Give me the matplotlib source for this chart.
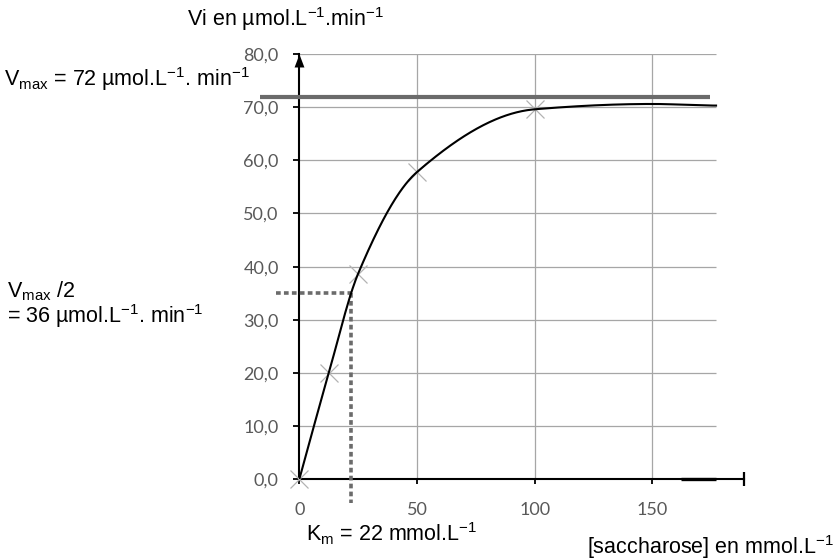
import numpy as np
import matplotlib
matplotlib.use("Agg")
import matplotlib.pyplot as plt
from matplotlib.path import Path

plt.rcParams["font.family"] = ["Liberation Sans", "DejaVu Sans"]
plt.rcParams["mathtext.fontset"] = "custom"
plt.rcParams["mathtext.rm"] = "Liberation Sans"
plt.rcParams["mathtext.it"] = "Liberation Sans:italic"
plt.rcParams["mathtext.bf"] = "Liberation Sans:bold"

# measured initial rates
substrate = [0, 12.5, 25, 50, 100]          # [saccharose] mmol/L
rate = [0, 20.0, 38.7, 57.8, 69.6]          # Vi µmol/L/min

# knots of the smoothed trend curve (plateau included)
curve_x = [0, 12.5, 25, 50, 100, 150, 177]
curve_y = [0, 20.0, 38.7, 57.8, 69.6, 70.6, 70.3]

vmax = 72
km = 22
half_vmax = 35

y_ticks = [0, 10, 20, 30, 40, 50, 60, 70, 80]
y_labels = ["0,0", "10,0", "20,0", "30,0", "40,0", "50,0", "60,0", "70,0", "80,0"]
x_ticks = [0, 50, 100, 150]
x_labels = ["0", "50", "100", "150"]


def pchip(xs, ys, n=400):
    """Shape-preserving piecewise cubic Hermite curve through the knots."""
    x = np.asarray(xs, float)
    y = np.asarray(ys, float)
    h = np.diff(x)
    d = np.diff(y) / h
    m = np.zeros_like(y)
    for k in range(1, len(x) - 1):
        if d[k - 1] * d[k] > 0:
            w1 = 2 * h[k] + h[k - 1]
            w2 = h[k] + 2 * h[k - 1]
            m[k] = (w1 + w2) / (w1 / d[k - 1] + w2 / d[k])
    m[0] = d[0]
    m[-1] = d[-1] if d[-1] * d[-2] > 0 else 0.0
    xx = np.linspace(x[0], x[-1], n)
    idx = np.clip(np.searchsorted(x, xx) - 1, 0, len(h) - 1)
    t = (xx - x[idx]) / h[idx]
    h00 = 2 * t ** 3 - 3 * t ** 2 + 1
    h10 = t ** 3 - 2 * t ** 2 + t
    h01 = -2 * t ** 3 + 3 * t ** 2
    h11 = t ** 3 - t ** 2
    yy = h00 * y[idx] + h10 * h[idx] * m[idx] + h01 * y[idx + 1] + h11 * h[idx] * m[idx + 1]
    return xx, yy


W, H = 840, 560
fig = plt.figure(figsize=(W / 100, H / 100), dpi=100)
left, right, bottom, top = 299.3, 744.3, 479.3, 54.0
ax = fig.add_axes([left / W, 1 - bottom / H, (right - left) / W, (bottom - top) / H])
ax.set_xlim(0, 189)
ax.set_ylim(0, 80)

grid_c = "#a6a6a6"
ax.hlines(y_ticks[1:], 0, 177, colors=grid_c, lw=0.9, zorder=1)
ax.vlines(x_ticks[1:], 0, 80, colors=grid_c, lw=0.9, zorder=1)

for s in ["top", "right"]:
    ax.spines[s].set_visible(False)
ax.spines["left"].set_linewidth(1.5)
ax.spines["bottom"].set_linewidth(1.5)

tick_font = dict(family=["Lato", "DejaVu Sans"], size=13, color="#595959")
ax.set_yticks(y_ticks)
ax.set_yticklabels(y_labels, **tick_font)
ax.set_xticks(x_ticks)
ax.set_xticklabels(x_labels, **tick_font)
ax.tick_params(axis="y", direction="out", length=4.3, width=1.3, pad=10.5)
ax.tick_params(axis="x", direction="out", length=3.6, width=1.3, pad=13)

# arrow head on the vertical axis
head = Path([(0, 0), (-0.38, -1), (0.38, -1), (0, 0)],
            [Path.MOVETO, Path.LINETO, Path.LINETO, Path.CLOSEPOLY])
ax.plot([0], [80], marker=head, markersize=18.7, color="black",
        markeredgewidth=0, clip_on=False, zorder=6)

# extended horizontal axis with end bar
ax.plot([189], [0], marker="|", markersize=10, markeredgewidth=1.6,
        color="black", clip_on=False, zorder=6)
ax.plot([162, 177], [0, 0], color="black", lw=2.4, solid_capstyle="butt",
        clip_on=False, zorder=5)

# Vmax level
ax.plot([-16.7, 174.6], [vmax, vmax], color="#6b6b6b", lw=3.0,
        solid_capstyle="butt", clip_on=False, zorder=3)

# Km construction
dash = (0, (1.3, 0.9))
ax.plot([-9.9, km], [half_vmax, half_vmax], color="#6b6b6b", lw=2.6,
        linestyle=dash, clip_on=False, zorder=3)
ax.plot([km, km], [half_vmax, -4.4], color="#6b6b6b", lw=2.6,
        linestyle=dash, clip_on=False, zorder=3)

cx, cy = pchip(curve_x, curve_y)
ax.plot(cx, cy, color="black", lw=1.5, zorder=4)
ax.plot(substrate, rate, linestyle="none", marker="x", markersize=13,
        markeredgewidth=0.9, color="#b3b3b3", clip_on=False, zorder=3)


def ftext(x, y, s, **kw):
    fig.text(x / W, 1 - y / H, s, ha="left", va="baseline",
             fontsize=15.5, color="black", **kw)


ftext(187, 26, r"Vi en µmol.L$^{-1}$.min$^{-1}$")
ftext(4, 86, r"V$_{\mathrm{max}}$ = 72 µmol.L$^{-1}$. min$^{-1}$")
ftext(7, 297, r"V$_{\mathrm{max}}$ /2")
ftext(7, 323, r"= 36 µmol.L$^{-1}$. min$^{-1}$")
ftext(306, 541, r"K$_{\mathrm{m}}$ = 22 mmol.L$^{-1}$")
ftext(587, 554, r"[saccharose] en mmol.L$^{-1}$")

fig.savefig("out.png", dpi=100)
